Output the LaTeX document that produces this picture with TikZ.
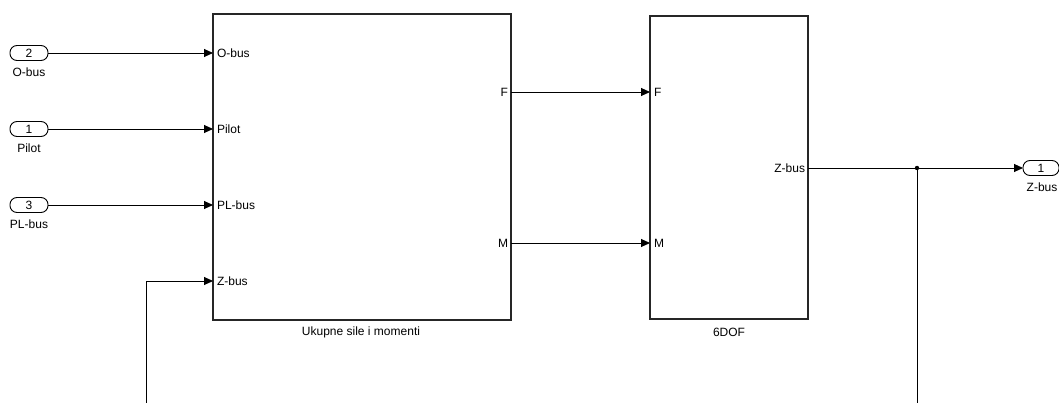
\documentclass[tikz,border=0pt]{standalone}
\usepackage{fontspec}
\setmainfont{Liberation Sans}
\usetikzlibrary{arrows.meta}
\begin{document}
\begin{tikzpicture}[x=1pt,y=-1pt,
  every node/.style={font=\fontsize{12}{14}\selectfont, inner sep=0pt, outer sep=0pt},
  blk/.style={draw=black!85, line width=1.2pt, rectangle},
  port/.style={draw, rounded corners=7pt, minimum width=38pt, minimum height=15pt, line width=0.9pt},
  sig/.style={line width=0.9pt, -{Triangle[length=9pt,width=8pt]}},
  wire/.style={line width=0.9pt}
]
\useasboundingbox (0,0) rectangle (1059,403);

% blocks
\node[blk, minimum width=298pt, minimum height=306pt] (b1) at (362,167) {};
\node[blk, minimum width=158pt, minimum height=303pt] (b2) at (729,167.5) {};
\node (b1name) at (361,332) {Ukupne sile i momenti};
\node (b2name) at (729,332) {6DOF};

% block 1 port labels
\node[anchor=west] (b1o) at (217,53) {O-bus};
\node[anchor=west] (b1p) at (217,129) {Pilot};
\node[anchor=west] (b1pl) at (217,205) {PL-bus};
\node[anchor=west] (b1z) at (217,281) {Z-bus};
\node[anchor=east] (b1f) at (508,92) {F};
\node[anchor=east] (b1m) at (508,243) {M};

% block 2 port labels
\node[anchor=west] (b2f) at (654,92) {F};
\node[anchor=west] (b2m) at (654,243) {M};
\node[anchor=east] (b2z) at (805,168) {Z-bus};

% input ports
\node[port] (in2) at (29,53) {2};
\node (in2l) at (29,72) {O-bus};
\node[port] (in1) at (29,129) {1};
\node (in1l) at (29,148) {Pilot};
\node[port] (in3) at (29,205) {3};
\node (in3l) at (29,224) {PL-bus};

% output port
\node[port, minimum width=36pt] (out1) at (1041,168) {1};
\node (out1l) at (1042,187) {Z-bus};

% connections
\draw[sig] (in2.east) -- (b1.west |- b1o);
\draw[sig] (in1.east) -- (b1.west |- b1p);
\draw[sig] (in3.east) -- (b1.west |- b1pl);
\draw[sig] (b1.east |- b1f) -- (b2.west |- b2f);
\draw[sig] (b1.east |- b1m) -- (b2.west |- b2m);

\coordinate (j) at (917,168);
\coordinate (jb) at (917,403);
\coordinate (fb) at (146,403);
\draw[sig] (b2.east |- b2z) -- (out1.west);
\draw[wire] (j) -- (jb);
\fill (j) circle (2.2pt);
\draw[sig] (fb) |- (b1.west |- b1z);
\end{tikzpicture}
\end{document}
